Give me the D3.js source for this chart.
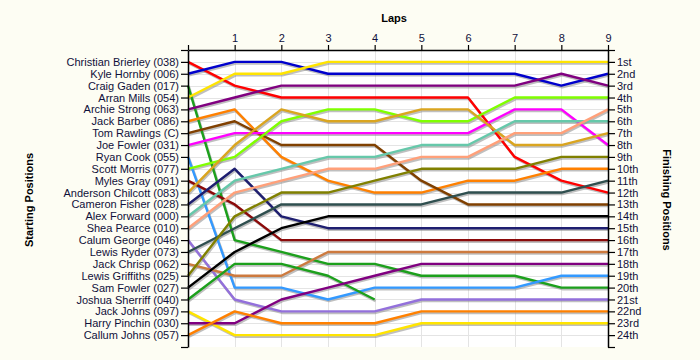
<!DOCTYPE html>
<html>
<head>
<meta charset="utf-8">
<script src="https://cdn.jsdelivr.net/npm/d3@7"></script>
<style>
  html, body { margin: 0; padding: 0; background: #fdfdf3; }
  svg { display: block; }
  text { font-family: "Liberation Sans", Arial, sans-serif; }
</style>
</head>
<body>
<svg id="chart" width="700" height="360"></svg>
<script>
// ---- data ----
const drivers = [
  "Christian Brierley (038)", "Kyle Hornby (006)", "Craig Gaden (017)", "Arran Mills (054)",
  "Archie Strong (063)", "Jack Barber (086)", "Tom Rawlings (C)", "Joe Fowler (031)",
  "Ryan Cook (055)", "Scott Morris (077)", "Myles Gray (091)", "Anderson Chilcott (083)",
  "Cameron Fisher (028)", "Alex Forward (000)", "Shea Pearce (010)", "Calum George (046)",
  "Lewis Ryder (073)", "Jack Chrisp (062)", "Lewis Griffiths (025)", "Sam Fowler (027)",
  "Joshua Sherriff (040)", "Jack Johns (097)", "Harry Pinchin (030)", "Callum Johns (057)"
];
const laps = [0, 1, 2, 3, 4, 5, 6, 7, 8, 9];
const lapLabels = ["", "1", "2", "3", "4", "5", "6", "7", "8", "9"];
const finishLabels = ["1st","2nd","3rd","4th","5th","6th","7th","8th","9th","10th","11th","12th",
  "13th","14th","15th","16th","17th","18th","19th","20th","21st","22nd","23rd","24th"];
// position of each driver at each lap (lap 0 = start)
const positions = [
  [1, 3, 4, 4, 4, 4, 4, 9, 11, 12],
  [2, 1, 1, 2, 2, 2, 2, 2, 3, 2],
  [3, 16, 17, 18, 18, 19, 19, 19, 20, 20],
  [4, 2, 2, 1, 1, 1, 1, 1, 1, 1],
  [5, 4, 3, 3, 3, 3, 3, 3, 2, 3],
  [6, 5, 9, 11, 12, 12, 11, 11, 10, 10],
  [7, 6, 8, 8, 8, 11, 13, 13, 13, 13],
  [8, 7, 7, 7, 7, 7, 7, 5, 5, 8],
  [9, 20, 20, 21, 20, 20, 20, 20, 19, 19],
  [10, 9, 6, 5, 5, 6, 6, 4, 4, 4],
  [11, 13, 16, 16, 16, 16, 16, 16, 16, 16],
  [12, 8, 5, 6, 6, 5, 5, 8, 8, 7],
  [13, 10, 14, 15, 15, 15, 15, 15, 15, 15],
  [14, 11, 10, 9, 9, 8, 8, 6, 6, 6],
  [15, 12, 11, 10, 10, 9, 9, 7, 7, 5],
  [16, 21, 22, 22, 22, 21, 21, 21, 21, 21],
  [17, 15, 13, 13, 13, 13, 12, 12, 12, 11],
  [18, 19, 19, 17, 17, 17, 17, 17, 17, 17],
  [19, 14, 12, 12, 11, 10, 10, 10, 9, 9],
  [20, 17, 15, 14, 14, 14, 14, 14, 14, 14],
  [21, 18, 18, 19, 21],
  [22, 24, 24, 24, 24, 23, 23, 23, 23, 23],
  [23, 23, 21, 20, 19, 18, 18, 18, 18, 18],
  [24, 22, 23, 23, 23, 22, 22, 22, 22, 22]
];
const colors = [
  "#ff0000", "#0000cc", "#1ca01c", "#ffe400", "#800080", "#ff8000", "#804000", "#ff00ff",
  "#3399ff", "#80ff00", "#8b0a0a", "#daa520", "#1e1e70", "#66c8aa", "#ffa07a", "#9370db",
  "#2f4f4f", "#cd7a3f", "#808000", "#000000", "#1ca01c", "#ffe400", "#800080", "#ff8000"
];

// ---- layout ----
const svg = d3.select("#chart");
const x0 = 188, x1 = 608, y0 = 50, y1 = 347;
const x = d3.scaleLinear().domain([0, 9]).range([x0, x1]);
const y = d3.scaleLinear().domain([0, 25]).range([y0, y1]);

// plot background
svg.append("rect").attr("x", x0).attr("y", y0).attr("width", x1 - x0).attr("height", y1 - y0)
  .attr("fill", "#ffffff");

// gridlines
const grid = svg.append("g").attr("stroke", "#e4e4e4").attr("stroke-width", 1);
grid.selectAll("line.h").data(d3.range(1, 25)).join("line")
  .attr("x1", x0).attr("x2", x1).attr("y1", d => Math.round(y(d)) + 0.5).attr("y2", d => Math.round(y(d)) + 0.5);
grid.selectAll("line.v").data(d3.range(1, 9)).join("line")
  .attr("y1", y0).attr("y2", y1).attr("x1", d => Math.round(x(d)) + 0.5).attr("x2", d => Math.round(x(d)) + 0.5);

// lines
const line = d3.line()
  .x((d, i) => x(laps[i]))
  .y(d => y(d));

const series = positions.map((p, i) => ({ p, c: colors[i] }));
const shadows = svg.append("g").attr("transform", "translate(1,1.5)");
shadows.selectAll("path").data(series).join("path")
  .attr("d", d => line(d.p)).attr("fill", "none")
  .attr("stroke", "#8a8a8a").attr("stroke-opacity", 0.55).attr("stroke-width", 2.6)
  .attr("stroke-linejoin", "round");
svg.append("g").selectAll("path").data(series).join("path")
  .attr("d", d => line(d.p)).attr("fill", "none")
  .attr("stroke", d => d.c).attr("stroke-width", 2.4)
  .attr("stroke-linejoin", "round");

// axes
const textColor = "#10103a";
const leftAxis = d3.axisLeft(y).tickValues(d3.range(0, 26)).tickSize(7).tickSizeOuter(0)
  .tickFormat(d => (d >= 1 && d <= 24) ? drivers[d - 1] : "");
const gl = svg.append("g").attr("transform", `translate(${x0},0)`).call(leftAxis);

const rightAxis = d3.axisRight(y).tickValues(d3.range(0, 26)).tickSize(7).tickSizeOuter(0)
  .tickFormat(d => (d >= 1 && d <= 24) ? finishLabels[d - 1] : "");
const gr = svg.append("g").attr("transform", `translate(${x1},0)`).call(rightAxis);

const topAxis = d3.axisTop(x).tickValues(laps).tickSize(5).tickSizeOuter(0)
  .tickFormat((d, i) => lapLabels[i]);
const gt = svg.append("g").attr("transform", `translate(0,${y0})`).call(topAxis);

[gl, gr, gt].forEach(g => {
  g.selectAll("path.domain").attr("stroke", "#000").attr("stroke-width", 1.5);
  g.selectAll(".tick line").attr("stroke", "#000").attr("stroke-width", 1.2);
  g.selectAll("text").attr("fill", textColor).attr("font-size", 11)
    .attr("font-family", "'Liberation Sans', Arial, sans-serif");
});
gl.selectAll("text").attr("x", -9);
gr.selectAll("text").attr("x", 9);
gt.selectAll("text").attr("y", -8);

// titles
svg.append("text").attr("x", 394).attr("y", 22).attr("text-anchor", "middle")
  .attr("font-size", 11).attr("font-weight", "bold").attr("fill", "#000").text("Laps");
svg.append("text").attr("transform", "translate(33,200) rotate(-90)").attr("text-anchor", "middle")
  .attr("font-size", 11).attr("font-weight", "bold").attr("fill", "#000").text("Starting Positions");
svg.append("text").attr("transform", "translate(663,200) rotate(90)").attr("text-anchor", "middle")
  .attr("font-size", 11).attr("font-weight", "bold").attr("fill", "#000").text("Finishing Positions");
</script>
</body>
</html>
